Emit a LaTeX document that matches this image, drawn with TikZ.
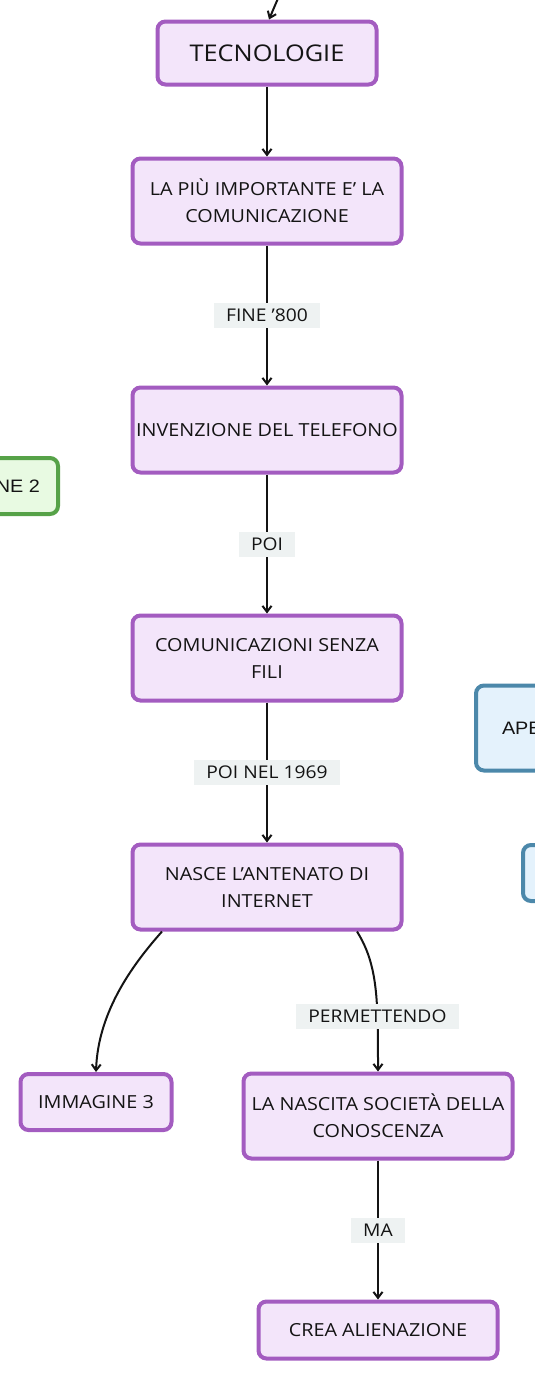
\documentclass[tikz,border=0pt]{standalone}
\usepackage{fontspec}
\setmainfont{Open Sans}[FakeStretch=1.1]
\newfontfamily\arialfont{Liberation Sans}[FakeStretch=1.1]
\usetikzlibrary{arrows.meta}
\usepackage{xcolor}
\definecolor{conceptdraw}{RGB}{163,92,192}
\definecolor{conceptfill}{RGB}{243,229,250}
\definecolor{imgdraw}{RGB}{86,162,72}
\definecolor{imgfill}{RGB}{232,250,226}
\definecolor{linkdraw}{RGB}{76,136,170}
\definecolor{linkfill}{RGB}{228,242,252}
\definecolor{lblfill}{RGB}{238,242,242}
\definecolor{inkcol}{RGB}{20,20,20}

\begin{document}
\begin{tikzpicture}[x=1pt, y=-1pt, >={Straight Barb[length=6pt, width=9pt]},
  concept/.style={draw=conceptdraw, fill=conceptfill, line width=4pt, rounded corners=8pt, minimum width=269pt, minimum height=85pt, align=center, inner sep=2pt, text=inkcol, font=\fontsize{18}{27}\selectfont},
  imgbox/.style={concept, draw=imgdraw, fill=imgfill, font={\arialfont\fontsize{18}{22}\selectfont}},
  linkbox/.style={concept, draw=linkdraw, fill=linkfill, font={\arialfont\fontsize{18}{22}\selectfont}},
  lbl/.style={fill=lblfill, text=inkcol, inner xsep=12pt, inner ysep=3pt, minimum height=25pt, font=\fontsize{17.5}{20}\selectfont},
  edge/.style={->, line width=2pt, draw=black!92}
]
\clip (0,0) rectangle (535,1382);
\node[concept, minimum width=219pt, minimum height=63pt, font=\fontsize{23}{28}\selectfont] (tec) at (267,53) {TECNOLOGIE};
\node[concept] (imp) at (267,201) {LA PIÙ IMPORTANTE E' LA\\COMUNICAZIONE};
\node[concept] (tel) at (267,430) {INVENZIONE DEL TELEFONO};
\node[concept] (fili) at (267,658) {COMUNICAZIONI SENZA\\FILI};
\node[concept] (inet) at (267,887) {NASCE L'ANTENATO DI\\INTERNET};
\node[concept, minimum width=151pt, minimum height=56pt] (img3) at (96,1102) {IMMAGINE 3};
\node[concept] (soc) at (378,1116) {LA NASCITA SOCIETÀ DELLA\\CONOSCENZA};
\node[concept, minimum width=239pt, minimum height=57pt] (alien) at (378,1330) {CREA ALIENAZIONE};
\node[imgbox, anchor=east, minimum width=153pt, minimum height=56pt] (img2) at (60,486) {IMMAGINE 2};
\node[linkbox, anchor=west, minimum width=100pt, minimum height=85pt, text width=100pt, align=left, inner xsep=26pt] (ape) at (474,728) {APE};
\node[linkbox, anchor=west, minimum width=100pt, minimum height=56pt] (link2) at (521,873) {};
\coordinate (top) at (279,-4);
\draw[edge] (top) -- ([xshift=2pt]tec.north);
\draw[edge] (tec) -- (imp);
\draw[edge] (imp) -- node[lbl] {FINE '800} (tel);
\draw[edge] (tel) -- node[lbl] {POI} (fili);
\draw[edge] (fili) -- node[lbl] {POI NEL 1969} (inet);
\draw[edge] ([xshift=-105pt]inet.south) .. controls (135,962) and (98,1010) .. (img3.north);
\draw[edge] ([xshift=90pt]inet.south) .. controls (378,965) and (378,1000) .. node[lbl, pos=0.7] {PERMETTENDO} (soc.north);
\draw[edge] (soc) -- node[lbl] {MA} (alien);
\end{tikzpicture}
\end{document}
